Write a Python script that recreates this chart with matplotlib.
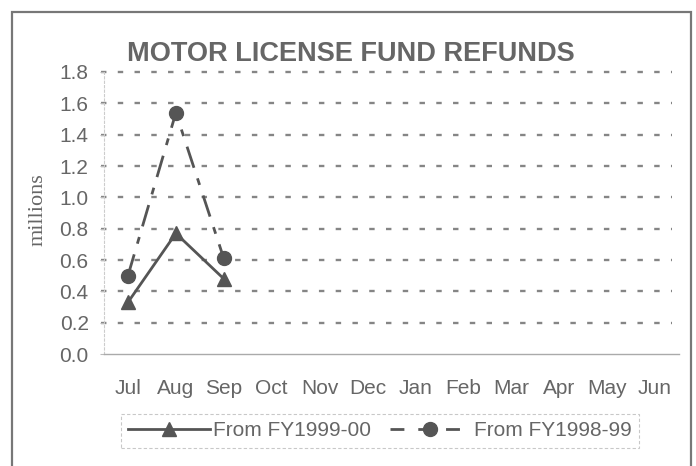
import matplotlib
matplotlib.use("Agg")
import matplotlib.pyplot as plt
from matplotlib.lines import Line2D
from matplotlib.patches import Rectangle

months = ["Jul", "Aug", "Sep", "Oct", "Nov", "Dec", "Jan", "Feb", "Mar", "Apr", "May", "Jun"]
fy2000_values = [0.33, 0.77, 0.48]
fy1999_values = [0.50, 1.54, 0.61]
yticks = [0.0, 0.2, 0.4, 0.6, 0.8, 1.0, 1.2, 1.4, 1.6, 1.8]
series_labels = ["From FY1999-00", "From FY1998-99"]

W, H = 696, 466
fig = plt.figure(figsize=(W / 100, H / 100), dpi=100)
fig.patch.set_facecolor("white")
plt.rcParams["font.family"] = ["Liberation Sans", "DejaVu Sans"]

text_c = "#666666"
line_c = "#555555"
grid_c = "#858585"

# outer frame
fig.add_artist(Rectangle((12 / W, -0.05), (691 - 12) / W, 1 - 12 / H + 0.05,
                         transform=fig.transFigure, fill=False,
                         edgecolor="#777777", linewidth=1.6))

ax = fig.add_axes([104 / W, 1 - 354 / H, 575 / W, 282 / H])
ax.set_facecolor("none")
x = list(range(len(months)))
ax.set_xlim(-0.5, len(months) - 0.5)
ax.set_ylim(0, 1.8)

for v in yticks[1:]:
    ax.axhline(v, color=grid_c, linestyle=(0, (2.3, 4.8)), linewidth=1.7, xmin=-0.006,
               xmax=0.987, zorder=1, clip_on=False)

ax.plot(x[:len(fy2000_values)], fy2000_values, color=line_c, linewidth=2,
        marker="^", markersize=10.5, zorder=3)
ax.plot(x[:len(fy1999_values)], fy1999_values, color=line_c, linewidth=2,
        linestyle=(0, (8, 4, 2.5, 4)), marker="o", markersize=10, zorder=3)

ax.set_xticks(x)
ax.set_xticklabels(months, fontsize=15, color=text_c)
ax.set_yticks(yticks)
ax.set_yticklabels([f"{v:.1f}" for v in yticks], fontsize=15, color=text_c)
ax.tick_params(axis="x", length=0, pad=18)
ax.tick_params(axis="y", length=3, color="#bbbbbb", pad=8)
for s in ["top", "right"]:
    ax.spines[s].set_visible(False)
ax.spines["left"].set_color("#cccccc")
ax.spines["left"].set_linestyle((0, (2, 2)))
ax.spines["bottom"].set_color("#aaaaaa")
ax.spines["bottom"].set_linewidth(1.0)

fig.text(351 / W, 1 - 54 / H, "MOTOR LICENSE FUND REFUNDS", ha="center", va="center",
         fontsize=19.5, fontweight="bold", color=text_c)
fig.text(38 / W, 1 - 210 / H, "millions", rotation=90, ha="center", va="center",
         fontsize=16, color=text_c, family=["Liberation Serif", "DejaVu Serif"])

handles = [
    Line2D([], [], color=line_c, linewidth=2, marker="^", markersize=10.5),
    Line2D([], [], color=line_c, linewidth=2, linestyle=(0, (5, 5)), marker="o", markersize=10),
]
leg = fig.legend(handles, series_labels, loc="center", bbox_to_anchor=(380 / W, 1 - 431 / H),
                 ncol=2, frameon=True, fontsize=15, handlelength=3.9, columnspacing=0.9,
                 handletextpad=0.15, borderpad=0.35, borderaxespad=0, fancybox=False)
leg.get_frame().set_edgecolor("#bbbbbb")
leg.get_frame().set_linestyle((0, (3, 2)))
leg.get_frame().set_linewidth(0.8)
for t in leg.get_texts():
    t.set_color(text_c)

fig.savefig("out.png", dpi=100, facecolor="white")
